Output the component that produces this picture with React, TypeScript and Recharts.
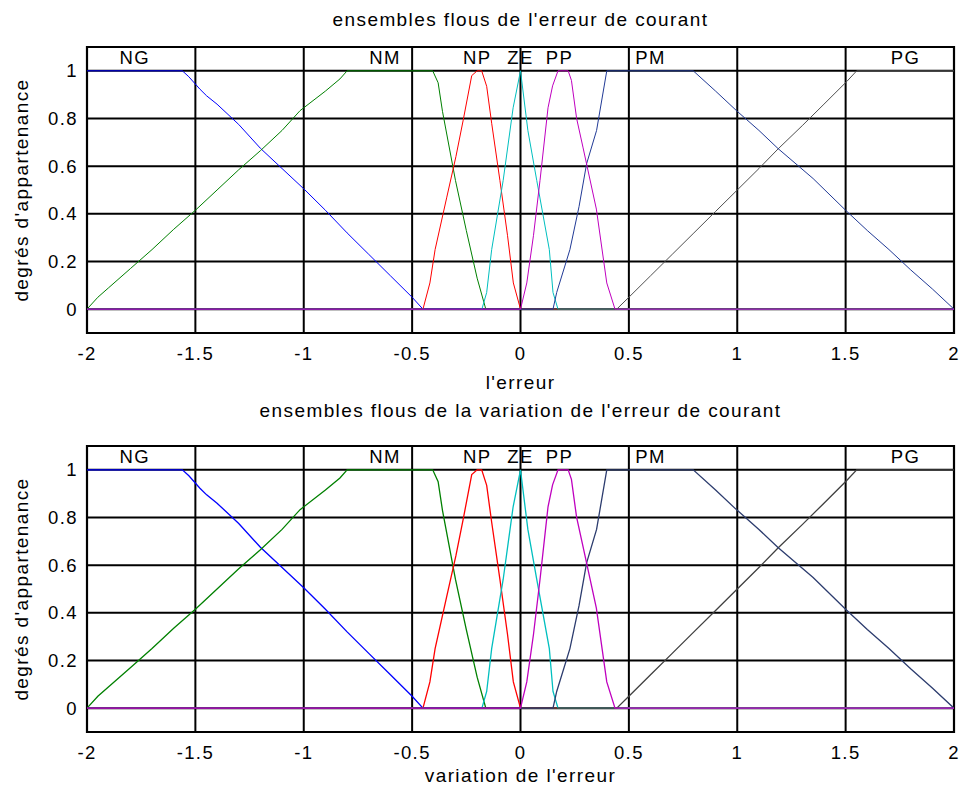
import React from 'react';
import { LineChart, Line, XAxis, YAxis, CartesianGrid, ReferenceArea, ReferenceDot } from 'recharts';

const xTicks = [-2, -1.5, -1, -0.5, 0, 0.5, 1, 1.5, 2];
const yTicks = [0, 0.2, 0.4, 0.6, 0.8, 1];

const mfNames = ['NG', 'NM', 'NP', 'ZE', 'PP', 'PM', 'PG'];
const mfLabelX = [-1.78, -0.625, -0.2, 0.0, 0.18, 0.6, 1.776];
const mfLabelY = 1.058;

const NG = [
  { x: -2, y: 1 }, { x: -1.56, y: 1 }, { x: -1.53, y: 0.975 }, { x: -1.479, y: 0.923 },
  { x: -1.448, y: 0.895 }, { x: -1.4, y: 0.86 }, { x: -1.3, y: 0.775 }, { x: -1.2, y: 0.675 },
  { x: -1.1, y: 0.59 }, { x: -1, y: 0.505 }, { x: -0.9, y: 0.415 }, { x: -0.8, y: 0.32 },
  { x: -0.7, y: 0.23 }, { x: -0.6, y: 0.14 }, { x: -0.5, y: 0.05 }, { x: -0.45, y: 0 }, { x: 2, y: 0 },
];
const NM = [
  { x: -2, y: 0 }, { x: -1.95, y: 0.05 }, { x: -1.9, y: 0.09 }, { x: -1.8, y: 0.17 },
  { x: -1.7, y: 0.25 }, { x: -1.6, y: 0.335 }, { x: -1.5, y: 0.415 }, { x: -1.4, y: 0.5 },
  { x: -1.3, y: 0.585 }, { x: -1.2, y: 0.665 }, { x: -1.1, y: 0.75 }, { x: -1.017, y: 0.833 },
  { x: -0.9, y: 0.915 }, { x: -0.833, y: 0.966 }, { x: -0.8, y: 1 }, { x: -0.405, y: 1 },
  { x: -0.38, y: 0.95 }, { x: -0.36, y: 0.83 }, { x: -0.3, y: 0.54 }, { x: -0.25, y: 0.33 },
  { x: -0.2, y: 0.13 }, { x: -0.16, y: 0 }, { x: 2, y: 0 },
];
const NP = [
  { x: -2, y: 0 }, { x: -0.45, y: 0 }, { x: -0.418, y: 0.11 }, { x: -0.394, y: 0.25 },
  { x: -0.34, y: 0.47 }, { x: -0.298, y: 0.64 }, { x: -0.265, y: 0.79 }, { x: -0.225, y: 0.98 },
  { x: -0.2, y: 1 }, { x: -0.179, y: 1 }, { x: -0.156, y: 0.935 }, { x: -0.133, y: 0.78 },
  { x: -0.095, y: 0.54 }, { x: -0.06, y: 0.31 }, { x: -0.033, y: 0.11 }, { x: 0, y: 0 }, { x: 2, y: 0 },
];
const ZE = [
  { x: -2, y: 0 }, { x: -0.178, y: 0 }, { x: -0.156, y: 0.07 }, { x: -0.133, y: 0.25 },
  { x: -0.08, y: 0.54 }, { x: -0.034, y: 0.845 }, { x: 0, y: 1 }, { x: 0.034, y: 0.75 },
  { x: 0.075, y: 0.54 }, { x: 0.133, y: 0.25 }, { x: 0.15, y: 0.07 }, { x: 0.173, y: 0 }, { x: 2, y: 0 },
];
const PP = [
  { x: -2, y: 0 }, { x: 0, y: 0 }, { x: 0.029, y: 0.11 }, { x: 0.06, y: 0.31 },
  { x: 0.09, y: 0.54 }, { x: 0.127, y: 0.845 }, { x: 0.148, y: 0.937 }, { x: 0.173, y: 1 },
  { x: 0.22, y: 1 }, { x: 0.235, y: 0.96 }, { x: 0.259, y: 0.8 }, { x: 0.288, y: 0.68 },
  { x: 0.35, y: 0.42 }, { x: 0.398, y: 0.11 }, { x: 0.436, y: 0 }, { x: 2, y: 0 },
];
const PM = [
  { x: -2, y: 0 }, { x: 0.15, y: 0 }, { x: 0.167, y: 0.07 }, { x: 0.228, y: 0.25 },
  { x: 0.27, y: 0.43 }, { x: 0.305, y: 0.61 }, { x: 0.351, y: 0.75 }, { x: 0.398, y: 1 },
  { x: 0.797, y: 1 }, { x: 0.9, y: 0.915 }, { x: 1, y: 0.83 }, { x: 1.1, y: 0.75 },
  { x: 1.188, y: 0.674 }, { x: 1.35, y: 0.548 }, { x: 1.5, y: 0.415 }, { x: 1.6, y: 0.33 },
  { x: 1.7, y: 0.25 }, { x: 1.8, y: 0.165 }, { x: 1.9, y: 0.085 }, { x: 2, y: 0 },
];
const PG = [
  { x: -2, y: 0 }, { x: 0.444, y: 0 }, { x: 0.5, y: 0.05 }, { x: 0.6, y: 0.14 },
  { x: 0.7, y: 0.23 }, { x: 0.8, y: 0.32 }, { x: 0.9, y: 0.41 }, { x: 1, y: 0.5 },
  { x: 1.1, y: 0.59 }, { x: 1.188, y: 0.672 }, { x: 1.3, y: 0.77 }, { x: 1.4, y: 0.86 },
  { x: 1.505, y: 0.955 }, { x: 1.551, y: 1 }, { x: 2, y: 1 },
];

const FONT = "'Liberation Sans', Arial, sans-serif";

type ChartProps = {
  top: number;
  height: number;
  marginTop: number;
  marginBottom: number;
  pmColor: string;
  pgColor: string;
  lw: number;
};

function MFChart({ top, height, marginTop, marginBottom, pmColor, pgColor, lw }: ChartProps) {
  const series = [
    { name: 'NG', data: NG, color: '#0000ff' },
    { name: 'NM', data: NM, color: '#008000' },
    { name: 'NP', data: NP, color: '#ff0000' },
    { name: 'ZE', data: ZE, color: '#00bfbf' },
    { name: 'PG', data: PG, color: pgColor },
    { name: 'PM', data: PM, color: pmColor },
    { name: 'PP', data: PP, color: '#bf00bf' },
  ];
  return (
    <div style={{ position: 'absolute', left: 0, top, width: 963, height }}>
      <LineChart
        width={963}
        height={height}
        margin={{ top: marginTop, right: 9, bottom: marginBottom, left: 27 }}
      >
        <CartesianGrid stroke="#000" strokeWidth={2} />
        <XAxis
          type="number"
          dataKey="x"
          domain={[-2, 2]}
          ticks={xTicks}
          allowDataOverflow
          height={30}
          tickSize={0}
          tickMargin={14}
          axisLine={false}
          tickLine={false}
          tick={{ fill: '#000', fontSize: 18.5, fontFamily: FONT }}
        />
        <YAxis
          type="number"
          dataKey="y"
          domain={[-0.1, 1.1]}
          ticks={yTicks}
          allowDataOverflow
          width={60}
          tickSize={0}
          tickMargin={9}
          axisLine={false}
          tickLine={false}
          tick={{ fill: '#000', fontSize: 18.5, fontFamily: FONT }}
        />
        <ReferenceArea x1={-2} x2={2} y1={-0.1} y2={1.1} fill="none" stroke="#000" strokeWidth={2.2} />
        {series.map((s) => (
          <Line
            key={s.name}
            data={s.data}
            dataKey="y"
            type="linear"
            stroke={s.color}
            strokeWidth={lw}
            dot={false}
            isAnimationActive={false}
          />
        ))}
        {mfNames.map((n, i) => (
          <ReferenceDot
            key={n}
            x={mfLabelX[i]}
            y={mfLabelY}
            r={0}
            fill="none"
            stroke="none"
            label={{ value: n, position: 'center', fill: '#000', fontSize: 18.5, fontFamily: FONT }}
          />
        ))}
      </LineChart>
    </div>
  );
}

export default function App() {
  const textStyle = { fontFamily: FONT, fontSize: 19, fill: '#000' } as const;
  return (
    <div
      style={{
        position: 'absolute',
        left: 0,
        top: 0,
        width: 963,
        height: 794,
        background: '#fff',
        letterSpacing: '1.4px',
        fontFamily: FONT,
      }}
    >
      <MFChart top={0} height={400} marginTop={47} marginBottom={37} pmColor="#213a96" pgColor="#505050" lw={1} />
      <MFChart top={400} height={394} marginTop={46} marginBottom={32} pmColor="#2c3c6e" pgColor="#404040" lw={1.3} />
      <svg
        width={963}
        height={794}
        style={{ position: 'absolute', left: 0, top: 0, pointerEvents: 'none' }}
      >
        <text x={520.5} y={26} textAnchor="middle" style={textStyle}>ensembles flous de l'erreur de courant</text>
        <text x={520.5} y={389} textAnchor="middle" style={textStyle}>l'erreur</text>
        <text x={520.5} y={417} textAnchor="middle" style={textStyle}>ensembles flous de la variation de l'erreur de courant</text>
        <text x={520.5} y={782} textAnchor="middle" style={textStyle}>variation de l'erreur</text>
        <text transform="translate(28,190) rotate(-90)" textAnchor="middle" style={textStyle}>degrés d'appartenance</text>
        <text transform="translate(28,589) rotate(-90)" textAnchor="middle" style={textStyle}>degrés d'appartenance</text>
      </svg>
    </div>
  );
}
